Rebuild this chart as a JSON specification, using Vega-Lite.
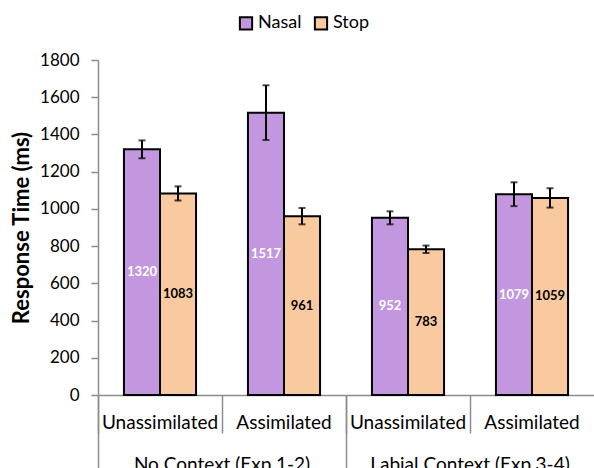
{
  "$schema": "https://vega.github.io/schema/vega-lite/v6.json",
  "width": 496,
  "height": 335,
  "autosize": {"type": "none"},
  "padding": {"left": 98, "top": 60, "right": 0, "bottom": 73},
  "background": "white",
  "config": {
    "font": "Lato",
    "view": {"stroke": null},
    "axis": {"grid": false, "domainColor": "#8c8c8c", "tickColor": "#8c8c8c", "labelColor": "#000000", "titleColor": "#000000", "labelOverlap": false}
  },
  "data": {
    "values": [
      {"group": "No Context (Exp.1-2)", "cond": "No Context (Exp.1-2)|Unassimilated", "type": "Nasal", "value": 1320, "lo": 1272, "hi": 1368},
      {"group": "No Context (Exp.1-2)", "cond": "No Context (Exp.1-2)|Unassimilated", "type": "Stop", "value": 1083, "lo": 1045, "hi": 1121},
      {"group": "No Context (Exp.1-2)", "cond": "No Context (Exp.1-2)|Assimilated", "type": "Nasal", "value": 1517, "lo": 1370, "hi": 1664},
      {"group": "No Context (Exp.1-2)", "cond": "No Context (Exp.1-2)|Assimilated", "type": "Stop", "value": 961, "lo": 917, "hi": 1005},
      {"group": "Labial Context (Exp.3-4)", "cond": "Labial Context (Exp.3-4)|Unassimilated", "type": "Nasal", "value": 952, "lo": 917, "hi": 987},
      {"group": "Labial Context (Exp.3-4)", "cond": "Labial Context (Exp.3-4)|Unassimilated", "type": "Stop", "value": 783, "lo": 763, "hi": 803},
      {"group": "Labial Context (Exp.3-4)", "cond": "Labial Context (Exp.3-4)|Assimilated", "type": "Nasal", "value": 1079, "lo": 1015, "hi": 1143},
      {"group": "Labial Context (Exp.3-4)", "cond": "Labial Context (Exp.3-4)|Assimilated", "type": "Stop", "value": 1059, "lo": 1007, "hi": 1111}
    ]
  },
  "layer": [
    {
      "encoding": {
        "x": {
          "field": "cond", "type": "nominal",
          "sort": ["No Context (Exp.1-2)|Unassimilated", "No Context (Exp.1-2)|Assimilated", "Labial Context (Exp.3-4)|Unassimilated", "Labial Context (Exp.3-4)|Assimilated"],
          "scale": {"paddingInner": 0, "paddingOuter": 0},
          "axis": {
            "title": null, "labelAngle": 0, "labelExpr": "split(datum.label, '|')[1]",
            "bandPosition": 0, "tickSize": 38, "labelPadding": -20, "labelFontSize": 19,
            "labelOverlap": false, "labelBound": false, "labelLimit": 200, "domainWidth": 1.5, "tickWidth": 1.5
          }
        },
        "xOffset": {"field": "type", "type": "nominal", "sort": ["Nasal", "Stop"], "scale": {"paddingInner": 0, "paddingOuter": 0.72}}
      },
      "layer": [
        {
          "mark": {"type": "bar", "stroke": "#000000", "strokeWidth": 2},
          "encoding": {
            "y": {
              "field": "value", "type": "quantitative",
              "scale": {"domain": [0, 1800], "nice": false},
              "axis": {
                "title": "Response Time (ms)", "values": [0, 200, 400, 600, 800, 1000, 1200, 1400, 1600, 1800],
                "format": "d", "labelOverlap": false,
                "tickSize": 7, "labelPadding": 12, "labelFontSize": 17, "titleFontSize": 22, "titleFontWeight": "bold",
                "titlePadding": 6, "domainWidth": 1.5, "tickWidth": 1.5
              }
            },
            "color": {
              "field": "type", "type": "nominal",
              "scale": {"domain": ["Nasal", "Stop"], "range": ["#C297E0", "#F9C9A0"]},
              "legend": {
                "title": null, "orient": "none", "direction": "horizontal", "legendX": 139, "legendY": -46,
                "symbolType": "square", "symbolSize": 150, "symbolStrokeColor": "#000000", "symbolStrokeWidth": 2,
                "labelFontSize": 18, "labelOffset": 3, "columnPadding": 8, "padding": 0
              }
            }
          }
        },
        {
          "mark": {"type": "rule", "color": "#000000", "strokeWidth": 2},
          "encoding": {
            "y": {
              "field": "lo", "type": "quantitative",
              "axis": {
                "title": "Response Time (ms)", "values": [0, 200, 400, 600, 800, 1000, 1200, 1400, 1600, 1800],
                "format": "d", "labelOverlap": false,
                "tickSize": 7, "labelPadding": 12, "labelFontSize": 17, "titleFontSize": 22, "titleFontWeight": "bold",
                "titlePadding": 6, "domainWidth": 1.5, "tickWidth": 1.5
              }
            },
            "y2": {"field": "hi"}
          }
        },
        {
          "mark": {"type": "tick", "color": "#000000", "thickness": 2, "size": 7},
          "encoding": {
            "y": {
              "field": "lo", "type": "quantitative",
              "axis": {
                "title": "Response Time (ms)", "values": [0, 200, 400, 600, 800, 1000, 1200, 1400, 1600, 1800],
                "format": "d", "labelOverlap": false,
                "tickSize": 7, "labelPadding": 12, "labelFontSize": 17, "titleFontSize": 22, "titleFontWeight": "bold",
                "titlePadding": 6, "domainWidth": 1.5, "tickWidth": 1.5
              }
            }
          }
        },
        {
          "mark": {"type": "tick", "color": "#000000", "thickness": 2, "size": 7},
          "encoding": {
            "y": {
              "field": "hi", "type": "quantitative",
              "axis": {
                "title": "Response Time (ms)", "values": [0, 200, 400, 600, 800, 1000, 1200, 1400, 1600, 1800],
                "format": "d", "labelOverlap": false,
                "tickSize": 7, "labelPadding": 12, "labelFontSize": 17, "titleFontSize": 22, "titleFontWeight": "bold",
                "titlePadding": 6, "domainWidth": 1.5, "tickWidth": 1.5
              }
            }
          }
        },
        {
          "mark": {"type": "text", "fontSize": 13, "fontWeight": "bold", "baseline": "middle"},
          "encoding": {
            "y": {
              "field": "value", "type": "quantitative", "stack": "zero", "bandPosition": 0.5,
              "axis": {
                "title": "Response Time (ms)", "values": [0, 200, 400, 600, 800, 1000, 1200, 1400, 1600, 1800],
                "format": "d", "labelOverlap": false,
                "tickSize": 7, "labelPadding": 12, "labelFontSize": 17, "titleFontSize": 22, "titleFontWeight": "bold",
                "titlePadding": 6, "domainWidth": 1.5, "tickWidth": 1.5
              }
            },
            "text": {"field": "value", "type": "quantitative"},
            "color": {"condition": {"test": "datum.type === 'Nasal'", "value": "#ffffff"}, "value": "#000000"}
          }
        }
      ]
    },
    {
      "mark": {"type": "tick", "opacity": 0},
      "encoding": {
        "x": {
          "field": "group", "type": "nominal",
          "sort": ["No Context (Exp.1-2)", "Labial Context (Exp.3-4)"],
          "scale": {"paddingInner": 0, "paddingOuter": 0},
          "axis": {
            "orient": "bottom", "title": null, "labelAngle": 0, "domain": false,
            "bandPosition": 0, "tickSize": 73, "labelPadding": -13, "labelFontSize": 19,
            "labelOverlap": false, "labelBound": false, "labelLimit": 300, "tickWidth": 1.5
          }
        }
      }
    }
  ],
  "resolve": {"scale": {"x": "independent"}, "axis": {"x": "independent"}}
}
